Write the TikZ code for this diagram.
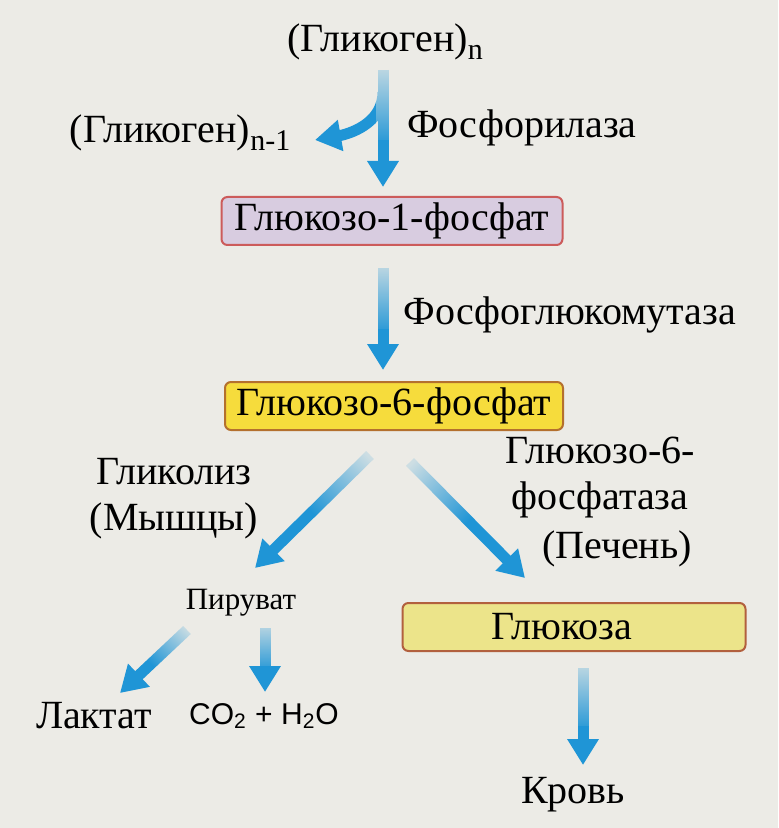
\documentclass[tikz,border=0pt]{standalone}
\usepackage{fontspec}
\setmainfont{Liberation Serif}
\newfontfamily\chemsans{Liberation Sans}
\usepackage{tikz}
\usetikzlibrary{arrows.meta, calc, positioning, fadings}

\definecolor{bgpaper}{HTML}{ECEBE6}
\definecolor{flowblue}{HTML}{1F95D6}
\definecolor{lilacfill}{HTML}{D8CCE0}
\definecolor{lilacdraw}{HTML}{CC5B5B}
\definecolor{goldfill}{HTML}{F6DC3C}
\definecolor{golddraw}{HTML}{B4702E}
\definecolor{palefill}{HTML}{ECE48A}
\definecolor{paledraw}{HTML}{B2603E}

\tikzfading[name=washfade, top color=transparent!15, bottom color=transparent!100]
\newcommand{\lowidx}[1]{\raisebox{-0.45ex}{\fontsize{15}{17}\selectfont #1}}

\begin{document}
\begin{tikzpicture}[x=0.5pt, y=-0.5pt, >={Triangle[width=15pt, length=13pt]}]
    \tikzstyle{txt} = [inner sep=1pt, font=\fontsize{20}{23}\selectfont]
    \tikzstyle{small} = [inner sep=1pt, font=\fontsize{15.5}{18}\selectfont]
    \tikzstyle{format} = [draw, line width=1pt, rounded corners=3pt,
	minimum height=24pt, inner sep=0pt, font=\fontsize{20}{23}\selectfont]
    \tikzstyle{flow} = [->, draw=flowblue, line width=5.5pt]
    % paper coloured overlay that makes the tail of an arrow pale
    \tikzstyle{wash} = [draw=bgpaper, line width=7pt, path fading=washfade]
    \tikzstyle{vwash} = [wash, to path={($(\tikztostart)+(-12,0)$)
	($(\tikztostart)+(12,0)$) (\tikztostart) -- (\tikztotarget)}]

	\fill[bgpaper] (0,0) rectangle (778,828);
	\useasboundingbox (0,0) rectangle (778,828);

	\begin{scope}
		\path
			node[txt] (gn) at (385,42) {(Гликоген)\lowidx{n}}
			node[txt] (gn1) at (180,133) {(Гликоген)\lowidx{n-1}}
			node[txt] (phos) at (522,128) {Фосфорилаза}
			node[format, fill=lilacfill, draw=lilacdraw, minimum width=170.5pt]
				(g1p) at (392,221) {Глюкозо-1-фосфат}
			node[txt] (pgm) at (570,315) {Фосфоглюкомутаза}
			node[format, fill=goldfill, draw=golddraw, minimum width=169pt]
				(g6p) at (394,406) {Глюкозо-6-фосфат}
			node[txt, align=center] (glyc) at (174,499) {Гликолиз\\(Мышцы)}
			node[txt, align=center] (g6pase) at (600,478) {Глюкозо-6-\\фосфатаза}
			node[txt] (liver) at (617,549) {(Печень)}
			node[small] (pyr) at (241,603) {Пируват}
			node[format, fill=palefill, draw=paledraw, minimum width=171.5pt]
				(gluc) at (574,627) {\hspace*{-12pt}Глюкоза}
			node[txt] (lact) at (94,716) {Лактат}
			node[inner sep=1pt, font=\chemsans\fontsize{15}{17}\selectfont]
				(co2) at (264,716) {CO\textsubscript{2} + H\textsubscript{2}O}
			node[txt] (blood) at (573,795) {Кровь}

			% tails (t) and heads (h) of the arrows
			coordinate (t1) at ($(gn)+(-2,28)$)     coordinate (h1) at ($(g1p)+(-9,-34)$)
			coordinate (br) at ($(gn)+(-2,50)$)     coordinate (hb) at ($(gn1)+(135,7)$)
			coordinate (t2) at ($(g1p)+(-9,47)$)    coordinate (h2) at ($(g6p)+(-11,-36)$)
			coordinate (t3) at ($(g6p)+(-24,49)$)   coordinate (h3) at ($(pyr)+(14,-35)$)
			coordinate (t4) at ($(g6p)+(16,56)$)    coordinate (h4) at ($(gluc)+(-49,-49)$)
			coordinate (t5) at ($(pyr)+(-54,27)$)   coordinate (h5) at ($(lact)+(26,-23)$)
			coordinate (t6) at ($(pyr)+(24,25)$)    coordinate (h6) at ($(co2)+(1,-24)$)
			coordinate (t7) at ($(gluc)+(9,41)$)    coordinate (h7) at ($(blood)+(10,-30)$)

			(t1) edge[flow] (h1)
			(br) edge[flow, out=-90, in=10] (hb)
			(t2) edge[flow] (h2)
			(t3) edge[flow] (h3)
			(t4) edge[flow] (h4)
			(t5) edge[flow] (h5)
			(t6) edge[flow] (h6)
			(t7) edge[flow] (h7)

			($(t1)+(0,-2)$) edge[vwash] ($(t1)!0.6!(h1)$)
			($(t2)+(0,-2)$) edge[vwash] ($(t2)!0.6!(h2)$)
			($(t3)!-0.03!(h3)$) edge[wash, fading angle=-45] ($(t3)!0.55!(h3)$)
			($(t4)!-0.03!(h4)$) edge[wash, fading angle=45] ($(t4)!0.55!(h4)$)
			($(t5)!-0.03!(h5)$) edge[wash, fading angle=-45] ($(t5)!0.55!(h5)$)
			($(t6)+(0,-2)$) edge[vwash] ($(t6)!0.6!(h6)$)
			($(t7)+(0,-2)$) edge[vwash] ($(t7)!0.6!(h7)$)
		;
	\end{scope}
\end{tikzpicture}
\end{document}
